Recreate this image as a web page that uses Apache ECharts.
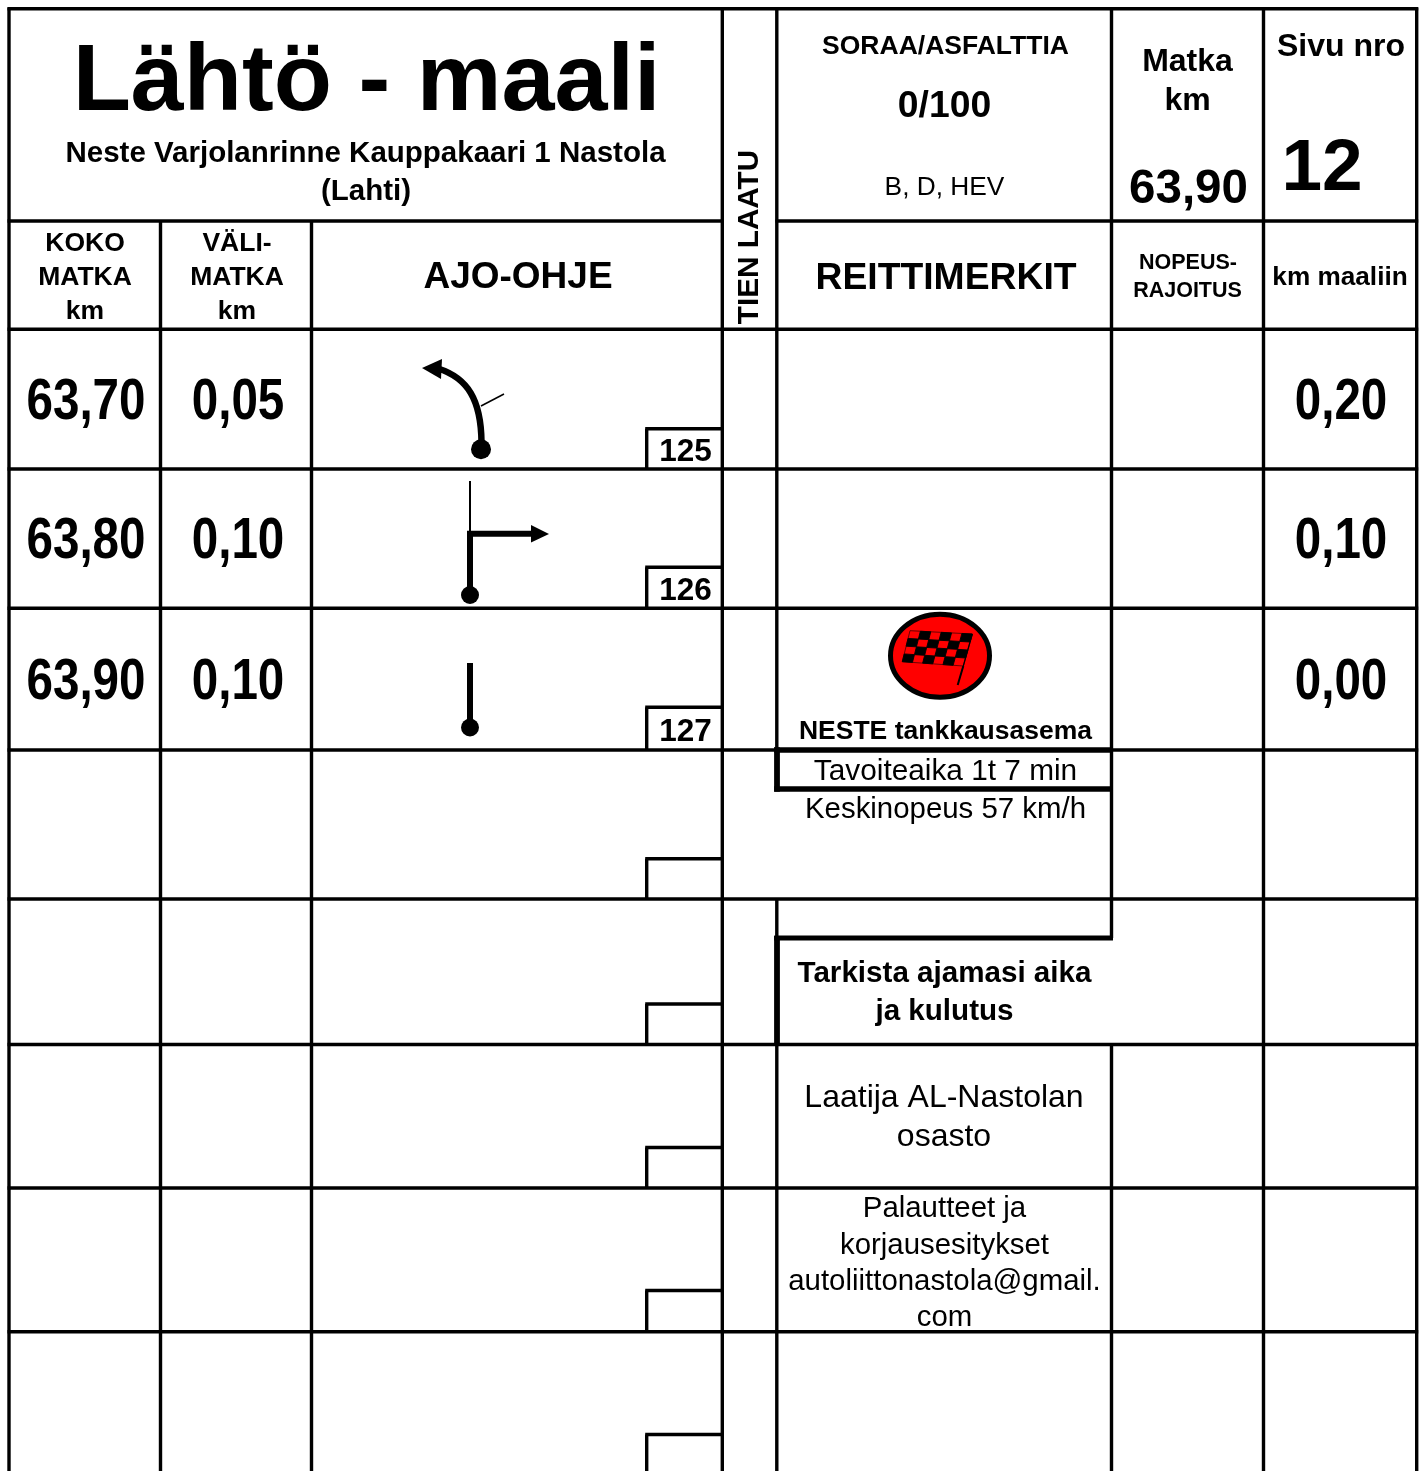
<!DOCTYPE html>
<html>
<head>
<meta charset="utf-8">
<style>html,body{margin:0;padding:0;background:#fff}#main{width:1421px;height:1471px}</style>
<script src="https://cdn.jsdelivr.net/npm/echarts@6/dist/echarts.min.js"></script>
</head>
<body>
<div id="main"></div>
<script>
// arvot
const kokoMatka = ['63,70', '63,80', '63,90'];
const valiMatka = ['0,05', '0,10', '0,10'];
const kmMaaliin = ['0,20', '0,10', '0,00'];
const reittiNumerot = ['125', '126', '127'];

// tekstit
const otsikko = ['Lähtö - maali', 'Neste Varjolanrinne Kauppakaari 1 Nastola', '(Lahti)'];
const tienLaatu = 'TIEN LAATU';
const tiePinta = ['SORAA/ASFALTTIA', '0/100', 'B, D, HEV'];
const matka = ['Matka', 'km', '63,90'];
const sivu = ['Sivu nro', '12'];
const kokoOtsikko = ['KOKO', 'MATKA', 'km'];
const valiOtsikko = ['VÄLI-', 'MATKA', 'km'];
const sarakkeet = ['AJO-OHJE', 'REITTIMERKIT', 'NOPEUS-', 'RAJOITUS', 'km maaliin'];
const maaliTeksti = ['NESTE tankkausasema', 'Tavoiteaika 1t 7 min', 'Keskinopeus 57 km/h'];
const tarkista = ['Tarkista ajamasi aika', 'ja kulutus'];
const laatija = ['Laatija AL-Nastolan', 'osasto'];
const palaute = ['Palautteet ja', 'korjausesitykset', 'autoliittonastola@gmail.', 'com'];

// ruudukon paikat, pikseleina
const rowLines = [469, 608.3, 750, 899, 1044.5, 1188, 1331.7];
const boxTops = [428.7, 567.3, 707.3, 858.7, 1004, 1147.5, 1290.5, 1434.5];
const boxBottoms = [469, 608.3, 750, 899, 1044.5, 1188, 1331.7, 1472];
const dataRowY = [397, 536, 677];
const boxLabelY = [448.3, 587, 728];
const W = 3.4;

const rules = [
    // vaakaviivat
    [7.5, 8.7, 1418.2, 8.7, W],
    [7.5, 221, 723.8, 221, W],
    [775.5, 221, 1418.2, 221, W],
    [7.5, 329.3, 1418.2, 329.3, W],
    // pystyviivat
    [9, 7.5, 9, 1472, W],
    [160.5, 221, 160.5, 1472, W],
    [311.5, 221, 311.5, 1472, W],
    [722.3, 7.5, 722.3, 1472, W],
    [776.8, 7.5, 776.8, 750, W],
    [776.8, 899, 776.8, 1472, W],
    [1111.5, 7.5, 1111.5, 938, W],
    [1111.5, 1044.5, 1111.5, 1472, W],
    [1263.5, 7.5, 1263.5, 1472, W],
    [1416.7, 7.5, 1416.7, 1472, W],
    // paksut reunat
    [774.2, 750, 1113, 750, 5.6],
    [774.2, 789, 1113, 789, 5.6],
    [777, 747.3, 777, 791.7, 5.8],
    [774.2, 938, 1113, 938, 5.2],
    [777, 936, 777, 1046, 5.8]
];
rowLines.forEach(y => rules.push([7.5, y, 1418.2, y, W]));
boxTops.forEach((y, i) => {
    rules.push([645.2, y, 722.3, y, W]);
    rules.push([646.7, y, 646.7, boxBottoms[i], W]);
});

const cells = [];
function put(t, x, y, s, bold, extra) {
    cells.push(Object.assign({ t, x, y, s, bold }, extra || {}));
}
put(otsikko[0], 366.5, 75.5, 95.3, true);
put(otsikko[1], 365.5, 150, 29.5, true);
put(otsikko[2], 366, 188, 29.5, true);
put(tienLaatu, 748, 237, 29.7, true, { rot: Math.PI / 2 });
put(tiePinta[0], 945.5, 43, 26.5, true);
put(tiePinta[1], 944.5, 102, 37.3, true);
put(tiePinta[2], 944.5, 184, 26.3, false);
put(matka[0], 1187.5, 58, 32, true);
put(matka[1], 1187.5, 97, 32, true);
put(matka[2], 1188.5, 185, 47.5, true);
put(sivu[0], 1341, 43, 32, true);
put(sivu[1], 1322, 162.5, 73, true);
kokoOtsikko.forEach((t, i) => put(t, 85, 240 + i * 34, 26.5, true));
valiOtsikko.forEach((t, i) => put(t, 237, 240 + i * 34, 26.5, true));
put(sarakkeet[0], 518, 273, 37, true);
put(sarakkeet[1], 946, 274, 37.3, true);
put(sarakkeet[2], 1188, 260, 21.5, true);
put(sarakkeet[3], 1187.5, 287.5, 21.5, true);
put(sarakkeet[4], 1340, 274, 26.2, true);
kokoMatka.forEach((t, i) => put(t, 86, dataRowY[i], 58, true, { sx: 0.82 }));
valiMatka.forEach((t, i) => put(t, 238, dataRowY[i], 58, true, { sx: 0.82 }));
kmMaaliin.forEach((t, i) => put(t, 1341, dataRowY[i], 58, true, { sx: 0.82 }));
reittiNumerot.forEach((t, i) => put(t, 685.5, boxLabelY[i], 31.5, true));
put(maaliTeksti[0], 945.5, 728, 26.5, true);
put(maaliTeksti[1], 945.5, 768, 29.8, false);
put(maaliTeksti[2], 945.5, 806, 29.4, false);
put(tarkista[0], 944.5, 970, 29.6, true);
put(tarkista[1], 944.5, 1008, 29.6, true);
put(laatija[0], 944, 1094, 32, false);
put(laatija[1], 944, 1133, 32, false);
palaute.forEach((t, i) => put(t, 944.5, 1205 + i * 36.4, 29.4, false));

function renderRule(params, api) {
    const r = rules[params.dataIndex];
    const a = api.coord([r[0], r[1]]);
    const b = api.coord([r[2], r[3]]);
    return {
        type: 'line',
        shape: { x1: a[0], y1: a[1], x2: b[0], y2: b[1] },
        style: { stroke: '#000', lineWidth: r[4], fill: null }
    };
}

function renderCell(params, api) {
    const c = cells[params.dataIndex];
    // middle-asettelu jaa korkealle, siirto fonttikoon mukaan
    const nudge = c.rot ? c.s * 0.07 : 2 + c.s * 0.07;
    const p = c.rot ? api.coord([c.x + nudge, c.y]) : api.coord([c.x, c.y + nudge]);
    return {
        type: 'text',
        x: p[0],
        y: p[1],
        rotation: c.rot || 0,
        scaleX: c.sx || 1,
        style: {
            text: c.t,
            font: (c.bold ? 'bold ' : '') + c.s + 'px "Liberation Sans", Arial, sans-serif',
            fill: '#000',
            align: 'center',
            verticalAlign: 'middle'
        }
    };
}

// ajo-ohjeen merkit ja lippu
function polyEl(api, pts, fill, stroke) {
    return {
        type: 'polygon',
        shape: { points: pts.map(p => api.coord(p)) },
        style: { fill, stroke: stroke || null, lineWidth: stroke ? 0.9 : 0 }
    };
}
function lineEl(api, a, b, w) {
    const p = api.coord(a), q = api.coord(b);
    return { type: 'line', shape: { x1: p[0], y1: p[1], x2: q[0], y2: q[1] }, style: { stroke: '#000', lineWidth: w, fill: null } };
}
function dotEl(api, c, r) {
    const p = api.coord(c);
    return { type: 'circle', shape: { cx: p[0], cy: p[1], r }, style: { fill: '#000' } };
}
function curveEl(api, p0, p1, p2, p3, w) {
    const a = api.coord(p0), b = api.coord(p1), c = api.coord(p2), d = api.coord(p3);
    return {
        type: 'bezierCurve',
        shape: { x1: a[0], y1: a[1], cpx1: b[0], cpy1: b[1], cpx2: c[0], cpy2: c[1], x2: d[0], y2: d[1] },
        style: { stroke: '#000', lineWidth: w, fill: null }
    };
}

function renderGlyphs(params, api) {
    const kids = [];
    // 125
    kids.push(curveEl(api, [481.5, 442], [481, 400], [468, 378], [438, 368.5], 6.5));
    kids.push(polyEl(api, [[422, 368], [442, 359], [441, 379]], '#000'));
    kids.push(lineEl(api, [481, 406], [504, 394], 1.5));
    kids.push(dotEl(api, [481, 449.3], 10));
    // 126
    kids.push(lineEl(api, [470, 481], [470, 532], 2));
    kids.push(lineEl(api, [470, 531], [470, 595], 6));
    kids.push(lineEl(api, [467, 533.7], [533, 533.7], 6));
    kids.push(polyEl(api, [[531, 525], [549, 534], [531, 542.5]], '#000'));
    kids.push(dotEl(api, [470, 595], 9));
    // 127
    kids.push(lineEl(api, [470, 663], [470, 727], 6));
    kids.push(dotEl(api, [470, 727.5], 9));
    // lippu
    const c = api.coord([940, 655.7]);
    kids.push({
        type: 'ellipse',
        shape: { cx: c[0], cy: c[1], rx: 49.5, ry: 41.5 },
        style: { fill: '#ff0000', stroke: '#000', lineWidth: 5 }
    });
    const tl = [910, 630.7], tr = [972.3, 634], bl = [902.3, 661.7], br = [963.3, 666];
    const at = (u, v) => [
        tl[0] * (1 - u) * (1 - v) + tr[0] * u * (1 - v) + bl[0] * (1 - u) * v + br[0] * u * v,
        tl[1] * (1 - u) * (1 - v) + tr[1] * u * (1 - v) + bl[1] * (1 - u) * v + br[1] * u * v
    ];
    kids.push(polyEl(api, [tl, tr, br, bl], 'none', '#5a0000'));
    for (let row = 0; row < 4; row++) {
        for (let col = 0; col < 6; col++) {
            if ((row + col) % 2 === 1) {
                kids.push(polyEl(api, [
                    at(col / 6, row / 4), at((col + 1) / 6, row / 4),
                    at((col + 1) / 6, (row + 1) / 4), at(col / 6, (row + 1) / 4)
                ], '#000', '#000'));
            }
        }
    }
    kids.push(lineEl(api, tr, br, 1.2));
    kids.push(lineEl(api, br, [957.7, 685], 2));
    return { type: 'group', children: kids };
}

const chart = echarts.init(document.getElementById('main'));
chart.setOption({
    animation: false,
    backgroundColor: '#fff',
    grid: { left: 0, right: 0, top: 0, bottom: 0 },
    xAxis: { type: 'value', min: 0, max: 1421, show: false },
    yAxis: { type: 'value', min: 0, max: 1471, inverse: true, show: false },
    tooltip: { show: false },
    series: [
        { type: 'custom', silent: true, clip: false, renderItem: renderRule, data: rules.map((r, i) => [i]) },
        { type: 'custom', silent: true, clip: false, renderItem: renderGlyphs, data: [[0]] },
        { type: 'custom', silent: true, clip: false, renderItem: renderCell, data: cells.map((c, i) => [i]) }
    ]
});
</script>
</body>
</html>
